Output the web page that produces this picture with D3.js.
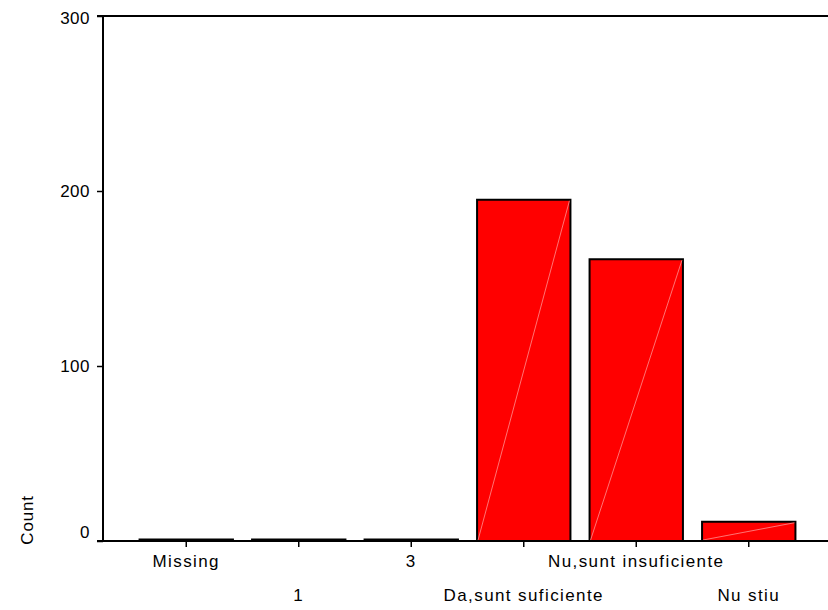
<!DOCTYPE html>
<html>
<head>
<meta charset="utf-8">
<script src="https://cdn.jsdelivr.net/npm/d3@7"></script>
<style>
  body { margin: 0; background: #fff; }
  text { font-family: "Liberation Sans", Arial, sans-serif; fill: #000; }
</style>
</head>
<body>
<div id="chart"></div>
<script>
// data
var categories = ["Missing", "1", "3", "Da,sunt suficiente", "Nu,sunt insuficiente", "Nu stiu"];
var counts = [0, 0, 0, 195, 161, 11];
var yTicks = [0, 100, 200, 300];

var width = 828, height = 610;
var axisX = 103, axisY = 541, topY = 16;

var svg = d3.select("#chart").append("svg")
    .attr("width", width)
    .attr("height", height);

// scales
var x = d3.scaleBand()
    .domain(categories)
    .range([130, 805])
    .paddingInner(0.17)
    .paddingOuter(0.085);

var y = d3.scaleLinear()
    .domain([0, 300])
    .range([axisY, topY]);

var data = categories.map(function(d, i) { return { cat: d, value: counts[i] }; });

// bars
var bars = svg.selectAll(".bar")
    .data(data)
    .enter()
    .append("g")
    .attr("class", "bar");

bars.append("rect")
    .attr("x", function(d) { return x(d.cat); })
    .attr("y", function(d) { return Math.min(y(d.value), axisY - 1.5); })
    .attr("width", x.bandwidth())
    .attr("height", function(d) { return Math.max(axisY - y(d.value), 1.5); })
    .attr("fill", "#ff0000")
    .attr("stroke", "#000")
    .attr("stroke-width", 2);

// faint diagonal inside each bar
bars.filter(function(d) { return d.value > 0; })
    .append("line")
    .attr("x1", function(d) { return x(d.cat) + 1; })
    .attr("y1", axisY - 1)
    .attr("x2", function(d) { return x(d.cat) + x.bandwidth() - 1; })
    .attr("y2", function(d) { return y(d.value) + 1; })
    .attr("stroke", "#ff9090")
    .attr("stroke-width", 0.8);

// y axis
var yAxis = d3.axisLeft(y)
    .tickValues(yTicks)
    .tickSize(6)
    .tickPadding(7);

var gy = svg.append("g")
    .attr("transform", "translate(" + axisX + ",0)")
    .call(yAxis);
gy.select(".domain").remove();
gy.selectAll(".tick line").attr("stroke", "#000").attr("stroke-width", 1.5);
gy.selectAll(".tick text")
    .style("font-size", "17px")
    .style("letter-spacing", "0.5px")
    .attr("dy", function(d) { return d === 0 ? "-0.22em" : (d === 300 ? "0.45em" : "0.32em"); });

svg.append("line")
    .attr("x1", axisX).attr("x2", axisX)
    .attr("y1", topY).attr("y2", axisY)
    .attr("stroke", "#000").attr("stroke-width", 2);

// top frame line
svg.append("line")
    .attr("x1", axisX - 6).attr("x2", width)
    .attr("y1", topY).attr("y2", topY)
    .attr("stroke", "#000").attr("stroke-width", 2);

// x axis
var xAxis = d3.axisBottom(x)
    .tickSize(6)
    .tickPadding(0);

var gx = svg.append("g")
    .attr("transform", "translate(0," + axisY + ")")
    .call(xAxis);
gx.select(".domain").remove();
gx.selectAll(".tick line").attr("stroke", "#000").attr("stroke-width", 1.5);
gx.selectAll(".tick text")
    .style("font-size", "17px")
    .style("letter-spacing", "1.4px")
    .attr("y", function(d, i) { return i % 2 === 0 ? 14 : 48; })
    .attr("dy", "0.71em");

svg.append("line")
    .attr("x1", axisX - 6).attr("x2", width)
    .attr("y1", axisY).attr("y2", axisY)
    .attr("stroke", "#000").attr("stroke-width", 2);

// y axis title
svg.append("text")
    .attr("transform", "translate(33,520) rotate(-90)")
    .style("text-anchor", "middle")
    .style("font-size", "17px")
    .style("letter-spacing", "0.8px")
    .text("Count");
</script>
</body>
</html>
